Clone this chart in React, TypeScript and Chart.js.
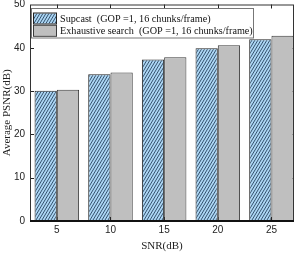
import React, { useEffect, useRef } from "react";
import { Chart, registerables } from "chart.js";

Chart.register(...registerables);

const snrValues = [5, 10, 15, 20, 25];
const supcast = [30.1, 33.9, 37.3, 39.9, 42.0];
const exhaustive = [30.3, 34.3, 37.8, 40.6, 42.8];
const seriesLabels = [
  "Supcast  (GOP =1, 16 chunks/frame)",
  "Exhaustive search  (GOP =1, 16 chunks/frame)",
];
const xMin = 2.5;
const xMax = 27.1;
const xStep = 5;
const yMin = 0;
const yMax = 50;
const yStep = 10;
const xTitle = "SNR(dB)";
const yTitle = "Average PSNR(dB)";

function makeHatch(): CanvasPattern | string {
  const w = 3;
  const h = 5;
  const c = document.createElement("canvas");
  c.width = w;
  c.height = h;
  const g = c.getContext("2d");
  if (!g) return "#a9d4f2";
  g.fillStyle = "#acd6f4";
  g.fillRect(0, 0, w, h);
  g.strokeStyle = "#27435f";
  g.lineWidth = 0.9;
  g.beginPath();
  for (let k = -1; k <= 1; k++) {
    g.moveTo(k * w, h);
    g.lineTo(k * w + w, 0);
  }
  g.stroke();
  return g.createPattern(c, "repeat") || "#a9d4f2";
}

const framePlugin = {
  id: "framePlugin",
  beforeDatasetsDraw(chart: any) {
    const { ctx, chartArea } = chart;
    const { left, right, top, bottom } = chartArea;
    const ys = chart.scales.y;
    const xs = chart.scales.x;
    ctx.save();
    ctx.strokeStyle = "#222";
    ctx.lineWidth = 1;
    ctx.beginPath();
    ys.ticks.forEach((t: any) => {
      if (t.value === yMin || t.value === yMax) return;
      const p = Math.round(ys.getPixelForValue(t.value)) + 0.5;
      ctx.moveTo(left, p);
      ctx.lineTo(left + 4, p);
      ctx.moveTo(right, p);
      ctx.lineTo(right - 4, p);
    });
    xs.ticks.forEach((t: any) => {
      const p = Math.round(xs.getPixelForValue(t.value)) + 0.5;
      ctx.moveTo(p, top);
      ctx.lineTo(p, top + 4);
      ctx.moveTo(p, bottom);
      ctx.lineTo(p, bottom - 4);
    });
    ctx.stroke();
    ctx.restore();
  },
  afterDatasetsDraw(chart: any) {
    const { ctx, chartArea } = chart;
    const { left, right, top, bottom } = chartArea;
    ctx.save();
    ctx.strokeStyle = "#333";
    ctx.lineWidth = 1;
    ctx.strokeRect(left + 0.5, top + 0.5, right - left - 1, bottom - top - 1);
    ctx.strokeStyle = "#111";
    ctx.lineWidth = 2;
    ctx.beginPath();
    ctx.moveTo(left, bottom);
    ctx.lineTo(right, bottom);
    ctx.stroke();

    // legend
    const lx = 31.5;
    const ly = 8.5;
    const lw = 222;
    const lh = 29.5;
    ctx.fillStyle = "#fff";
    ctx.fillRect(lx, ly, lw, lh);
    ctx.strokeStyle = "#777";
    ctx.lineWidth = 1;
    ctx.strokeRect(lx, ly, lw, lh);
    ctx.font = "10.2px 'Liberation Serif'";
    ctx.textBaseline = "middle";
    ctx.textAlign = "left";
    chart.data.datasets.forEach((ds: any, i: number) => {
      const sy = 13.5 + i * 12.3;
      ctx.fillStyle = ds.backgroundColor;
      ctx.fillRect(34, sy, 22, 10);
      ctx.strokeStyle = ds.borderColor;
      ctx.lineWidth = 1;
      ctx.strokeRect(33.5, sy - 0.5, 23, 11);
      ctx.fillStyle = "#111";
      ctx.fillText(ds.label, 60, sy + 5.5);
    });
    ctx.restore();
  },
};

export default function App() {
  const ref = useRef<HTMLCanvasElement | null>(null);
  useEffect(() => {
    if (!ref.current) return;
    const hatch = makeHatch();
    const chart = new Chart(ref.current, {
      type: "bar",
      data: {
        datasets: [
          {
            label: seriesLabels[0],
            data: snrValues.map((x, i) => ({ x, y: supcast[i] })),
            backgroundColor: hatch as any,
            borderColor: "#222",
            borderWidth: 1,
            categoryPercentage: 0.83,
            barPercentage: 1,
          },
          {
            label: seriesLabels[1],
            data: snrValues.map((x, i) => ({ x, y: exhaustive[i] })),
            backgroundColor: "#bfbfbf",
            borderColor: "#3a3a3a",
            borderWidth: 1,
            categoryPercentage: 0.83,
            barPercentage: 1,
          },
        ],
      },
      options: {
        animation: false,
        responsive: false,
        maintainAspectRatio: false,
        layout: { padding: { top: 4.5, right: 6, left: 0, bottom: 0 } },
        plugins: {
          legend: { display: false },
          tooltip: { enabled: false },
        },
        scales: {
          x: {
            type: "linear",
            min: xMin,
            max: xMax,
            offset: false,
            grid: { display: false, drawTicks: false },
            border: { display: false },
            afterBuildTicks(s: any) {
              s.ticks = snrValues.map((v) => ({ value: v }));
            },
            ticks: {
              stepSize: xStep,
              color: "#222",
              font: { family: "'Liberation Sans'", size: 10 },
              padding: 3,
              maxRotation: 0,
            },
            title: {
              display: true,
              text: xTitle,
              color: "#222",
              font: { family: "'Liberation Serif'", size: 11 },
              padding: { top: 0, bottom: 0 },
            },
            afterFit(s: any) {
              s.height = 32;
              s.paddingLeft = 0;
              s.paddingRight = 0;
            },
          },
          y: {
            min: yMin,
            max: yMax,
            grid: { display: false, drawTicks: false },
            border: { display: false },
            ticks: {
              stepSize: yStep,
              color: "#222",
              font: { family: "'Liberation Sans'", size: 10 },
              padding: 5,
            },
            title: {
              display: true,
              text: yTitle,
              color: "#222",
              font: { family: "'Liberation Serif'", size: 11 },
              padding: { top: 1, bottom: 0 },
            },
            afterFit(s: any) {
              s.width = 30;
              s.paddingTop = 0;
              s.paddingBottom = 0;
            },
          },
        },
      } as any,
      plugins: [framePlugin],
    });
    return () => chart.destroy();
  }, []);
  return (
    <div style={{ position: "fixed", left: 0, top: 0, width: 300, height: 253, background: "#fff" }}>
      <canvas ref={ref} width={300} height={253} style={{ display: "block" }} />
    </div>
  );
}
